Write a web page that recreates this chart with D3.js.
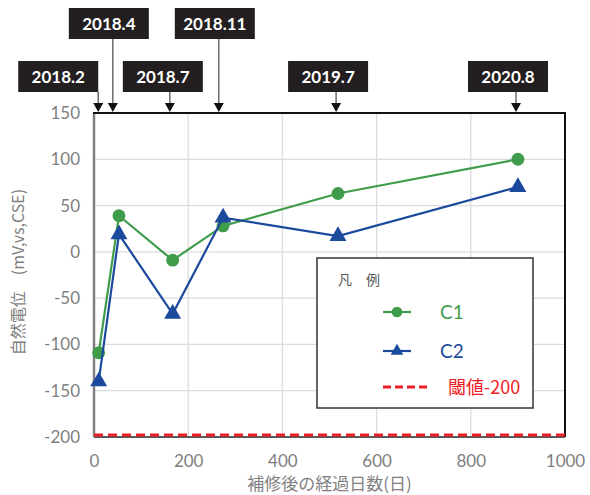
<!DOCTYPE html>
<meta charset="utf-8">
<script src="https://cdn.jsdelivr.net/npm/d3@7"></script>
<style>
  body { margin: 0; background: #fff; }
  text { font-family: Lato, "Noto Sans CJK JP", sans-serif; }
</style>
<body>
<script>

    // data
    var days = [10, 53, 167, 274, 518, 900];
    var c1 = [-109, 39, -9, 28, 63, 100];
    var c2 = [-140, 19, -67, 37, 17, 70];
    var threshold = -200;

    var xTicks = [0, 200, 400, 600, 800, 1000];
    var yTicks = [150, 100, 50, 0, -50, -100, -150, -200];

    // survey dates shown above the plot
    var surveyLabels = ["2018.2", "2018.4", "2018.7", "2018.11", "2019.7", "2020.8"];
    var surveyDays = [9, 40, 161, 265, 514, 896];
    var surveyRow = [1, 0, 1, 0, 1, 1];
    var boxShift = [-80, -44, -47, -44, -48, -48];

    var width = 590, height = 495;
    var pl = 94, pr = 565, pt = 113, pb = 437;

    var svg = d3.select("body").append("svg")
        .attr("width", width)
        .attr("height", height);

    var x = d3.scaleLinear().domain([0, 1000]).range([pl, pr]);
    var y = d3.scaleLinear().domain([-200, 150]).range([pb, pt]);

    // grid
    svg.append("g")
        .selectAll("line")
        .data(yTicks)
      .enter().append("line")
        .attr("x1", pl).attr("x2", pr)
        .attr("y1", d => y(d)).attr("y2", d => y(d))
        .attr("stroke", "#dcdcdc").attr("stroke-width", 1.3);
    svg.append("g")
        .selectAll("line")
        .data(xTicks)
      .enter().append("line")
        .attr("x1", d => x(d)).attr("x2", d => x(d))
        .attr("y1", pt).attr("y2", pb)
        .attr("stroke", "#dcdcdc").attr("stroke-width", 1.3);

    // axes (labels only), plain hyphen for negatives like the original
    var plain = d => String(d);
    var yAxis = svg.append("g")
        .attr("transform", "translate(" + pl + ",0)")
        .call(d3.axisLeft(y).tickValues(yTicks).tickFormat(plain).tickSize(0).tickPadding(14));
    var xAxis = svg.append("g")
        .attr("transform", "translate(0," + pb + ")")
        .call(d3.axisBottom(x).tickValues(xTicks).tickFormat(plain).tickSize(0).tickPadding(18));
    [yAxis, xAxis].forEach(function(a) {
      a.select(".domain").remove();
      a.selectAll("text")
          .attr("fill", "#7f7f7f")
          .style("font-family", "Lato")
          .style("font-size", "17px");
    });

    // plot frame
    svg.append("line").attr("x1", pl).attr("x2", pl).attr("y1", pt).attr("y2", pb)
        .attr("stroke", "#808080").attr("stroke-width", 2.5);
    svg.append("line").attr("x1", pl).attr("x2", pr).attr("y1", pb).attr("y2", pb)
        .attr("stroke", "#595959").attr("stroke-width", 2);
    svg.append("line").attr("x1", pl - 1).attr("x2", pr + 1).attr("y1", pt).attr("y2", pt)
        .attr("stroke", "#111").attr("stroke-width", 2);
    svg.append("line").attr("x1", pr).attr("x2", pr).attr("y1", pt).attr("y2", pb)
        .attr("stroke", "#111").attr("stroke-width", 2);

    // threshold
    svg.append("line")
        .attr("x1", pl).attr("x2", pr)
        .attr("y1", y(threshold) - 2).attr("y2", y(threshold) - 2)
        .attr("stroke", "#ee1c25").attr("stroke-width", 3)
        .attr("stroke-dasharray", "9,5");

    var line = d3.line()
        .x(d => x(d[0]))
        .y(d => y(d[1]));

    var series = [
      { vals: c1, color: "#3f9c4a", shape: "circle" },
      { vals: c2, color: "#1b4a9c", shape: "triangle" }
    ];

    series.forEach(function(s) {
      var pts = days.map((d, i) => [d, s.vals[i]]);
      svg.append("path")
          .datum(pts)
          .attr("fill", "none")
          .attr("stroke", s.color)
          .attr("stroke-width", 2.2)
          .attr("d", line);
      var sym = s.shape == "circle"
          ? d3.symbol().type(d3.symbolCircle).size(130)
          : d3.symbol().type(d3.symbolTriangle).size(125);
      svg.append("g")
          .selectAll("path")
          .data(pts)
        .enter().append("path")
          .attr("transform", d => "translate(" + x(d[0]) + "," + y(d[1]) + ")")
          .attr("d", sym)
          .attr("fill", s.color);
    });

    // legend
    var lg = svg.append("g").attr("transform", "translate(317,258)");
    lg.append("rect")
        .attr("width", 216).attr("height", 150)
        .attr("fill", "#fff").attr("stroke", "#333").attr("stroke-width", 1.5);
    lg.append("text").attr("x", 21).attr("y", 27)
        .attr("fill", "#555").style("font-size", "14px")
        .style("font-family", "'Noto Sans CJK JP'")
        .text("凡　例");
    var items = [
      { label: "C1", color: "#3f9c4a", shape: d3.symbolCircle, sz: 90, y: 54 },
      { label: "C2", color: "#1b4a9c", shape: d3.symbolTriangle, sz: 70, y: 93 }
    ];
    items.forEach(function(it) {
      lg.append("line").attr("x1", 66).attr("x2", 94).attr("y1", it.y).attr("y2", it.y)
          .attr("stroke", it.color).attr("stroke-width", 2.2);
      lg.append("path").attr("transform", "translate(80," + it.y + ")")
          .attr("d", d3.symbol().type(it.shape).size(it.sz)).attr("fill", it.color);
      lg.append("text").attr("x", 123).attr("y", it.y + 7)
          .attr("fill", it.color).style("font-size", "19px").text(it.label);
    });
    lg.append("line").attr("x1", 66).attr("x2", 113).attr("y1", 129).attr("y2", 129)
        .attr("stroke", "#ee1c25").attr("stroke-width", 3).attr("stroke-dasharray", "8,4");
    lg.append("text").attr("x", 131).attr("y", 136)
        .attr("fill", "#ee1c25").style("font-size", "18px")
        .style("font-family", "'Noto Sans CJK JP'")
        .text("閾値-200");

    // axis titles
    svg.append("text")
        .attr("transform", "translate(24,272) rotate(-90)")
        .attr("text-anchor", "middle")
        .attr("fill", "#7f7f7f").style("font-size", "16px")
        .style("font-family", "'Noto Sans CJK JP'")
        .text("自然電位　(mV,vs,CSE)");
    svg.append("text")
        .attr("x", (pl + pr) / 2).attr("y", 490)
        .attr("text-anchor", "middle")
        .attr("fill", "#7f7f7f").style("font-size", "17px")
        .style("font-family", "'Noto Sans CJK JP'")
        .text("補修後の経過日数(日)");

    // survey date callouts
    var rowTop = [8, 61];
    var boxW = 80, boxH = 31;
    var ann = svg.append("g")
        .selectAll("g")
        .data(surveyLabels)
      .enter().append("g");
    ann.append("line")
        .attr("x1", (d, i) => x(surveyDays[i]))
        .attr("x2", (d, i) => x(surveyDays[i]))
        .attr("y1", (d, i) => rowTop[surveyRow[i]] + boxH)
        .attr("y2", pt - 8)
        .attr("stroke", "#555").attr("stroke-width", 1.3);
    ann.append("path")
        .attr("d", (d, i) => {
          var ax = x(surveyDays[i]);
          return "M" + (ax - 5) + "," + (pt - 10) + "L" + (ax + 5) + "," + (pt - 10) + "L" + ax + "," + (pt - 1) + "Z";
        })
        .attr("fill", "#111");
    ann.append("rect")
        .attr("x", (d, i) => x(surveyDays[i]) + boxShift[i])
        .attr("y", (d, i) => rowTop[surveyRow[i]])
        .attr("width", boxW).attr("height", boxH)
        .attr("fill", "#231f20");
    ann.append("text")
        .attr("x", (d, i) => x(surveyDays[i]) + boxShift[i] + boxW / 2)
        .attr("y", (d, i) => rowTop[surveyRow[i]] + boxH / 2 + 6)
        .attr("text-anchor", "middle")
        .attr("fill", "#fff")
        .style("font-size", "17px").style("font-weight", "bold")
        .text(d => d);

</script>
</body>
